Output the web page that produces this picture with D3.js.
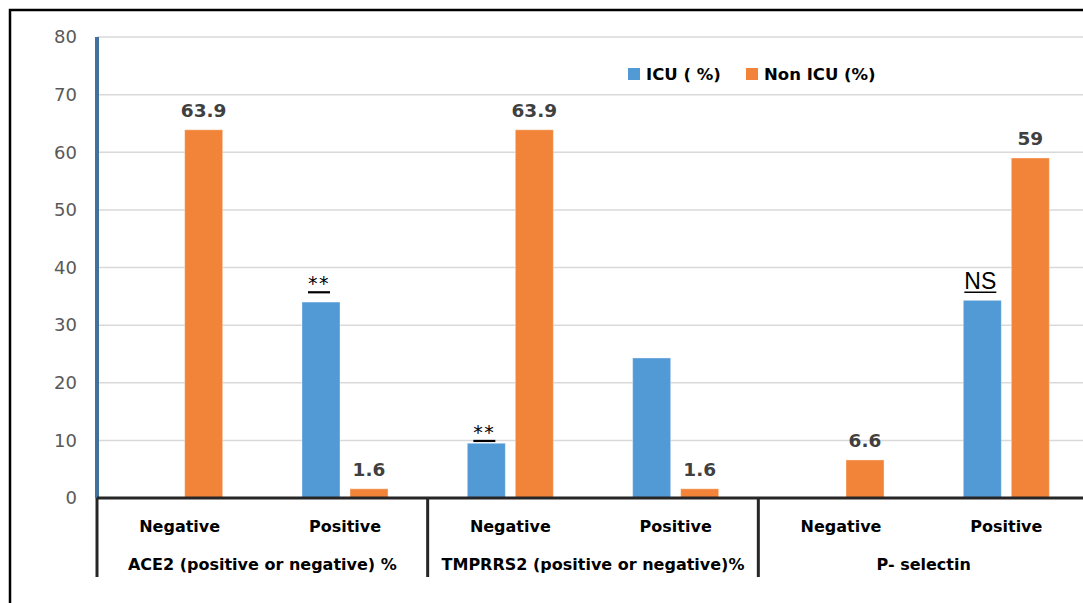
<!DOCTYPE html>
<html>
<head>
<meta charset="utf-8">
<script src="https://cdn.jsdelivr.net/npm/d3@7"></script>
<style>
  html, body { margin: 0; padding: 0; background: #fff; }
  svg { display: block; }
</style>
</head>
<body>
<div id="chart"></div>
<script>
// ---- data ----
const groups = ["ACE2 (positive or negative) %", "TMPRRS2 (positive or negative)%", "P- selectin"];
const categories = ["Negative", "Positive"];
const seriesNames = ["ICU ( %)", "Non ICU (%)"];
// values listed per group, then per category (Negative, Positive)
const icuValues    = [0, 34.0, 9.5, 24.3, 0, 34.3];
const nonIcuValues = [63.9, 1.6, 63.9, 1.6, 6.6, 59];
const nonIcuLabels = ["63.9", "1.6", "63.9", "1.6", "6.6", "59"];
const yTicks = [0, 10, 20, 30, 40, 50, 60, 70, 80];
// significance marks over ICU bars: group index, category index, text, level (data units)
const marks = [
  { g: 0, c: 1, text: "**", level: 35.7 },
  { g: 1, c: 0, text: "**", level: 9.9 },
  { g: 2, c: 1, text: "NS", level: 35.7 }
];

const W = 1083, H = 603;
const colors = ["#529ad5", "#f2843a"];

const svg = d3.select("#chart").append("svg")
  .attr("width", W).attr("height", H);

const pLeft = 97, pRight = 1089, pTop = 37, pBottom = 498;

const y = d3.scaleLinear().domain([0, 80]).range([pBottom, pTop]);
const x0 = d3.scaleBand().domain(groups).range([pLeft, pRight]);
const x1 = d3.scaleBand().domain(categories).range([0, x0.bandwidth()]);
const x2 = d3.scaleBand().domain(seriesNames).range([0, x1.bandwidth()])
  .paddingInner(0.2083).paddingOuter(0.826);

// outer border
svg.append("rect").attr("x", 10).attr("y", 10).attr("width", 1200).attr("height", 800)
  .attr("fill", "none").attr("stroke", "#000").attr("stroke-width", 2.5);

// gridlines
svg.append("g").selectAll("line").data(yTicks.filter(d => d > 0)).join("line")
  .attr("x1", pLeft).attr("x2", W).attr("y1", d => y(d)).attr("y2", d => y(d))
  .attr("stroke", "#d9d9d9").attr("stroke-width", 1.5);

// y axis
const yAxis = d3.axisLeft(y).tickValues(yTicks).tickSize(0).tickPadding(20);
const yg = svg.append("g").attr("transform", `translate(${pLeft},0)`).call(yAxis);
yg.select(".domain").remove();
yg.selectAll("text").attr("font-family", "DejaVu Sans").attr("font-size", 18)
  .attr("fill", "#595959");
svg.append("line").attr("x1", pLeft).attr("x2", pLeft).attr("y1", pTop).attr("y2", pBottom)
  .attr("stroke", "#41719c").attr("stroke-width", 4);

// flattened rows
const rows = [];
groups.forEach((g, gi) => categories.forEach((c, ci) => {
  const i = gi * categories.length + ci;
  rows.push({ g, c, gi, ci, icu: icuValues[i], non: nonIcuValues[i], label: nonIcuLabels[i] });
}));

const bx = (r, s) => x0(r.g) + x1(r.c) + x2(s);

// bars
const barsG = svg.append("g");
rows.forEach(r => {
  [[seriesNames[0], r.icu, colors[0]], [seriesNames[1], r.non, colors[1]]].forEach(([s, v, col]) => {
    if (!v) return;
    barsG.append("rect")
      .attr("x", bx(r, s)).attr("width", x2.bandwidth())
      .attr("y", y(v)).attr("height", y(0) - y(v))
      .attr("fill", col).attr("stroke", "rgba(255,255,255,0.35)").attr("stroke-width", 1);
  });
});

// data labels (Non ICU)
svg.append("g").selectAll("text").data(rows).join("text")
  .attr("x", r => bx(r, seriesNames[1]) + x2.bandwidth() / 2)
  .attr("y", r => y(r.non) - 13)
  .attr("text-anchor", "middle")
  .attr("font-family", "DejaVu Sans").attr("font-weight", "bold").attr("font-size", 18.5)
  .attr("fill", "#404040")
  .text(r => r.label);

// significance marks
marks.forEach(m => {
  const r = rows[m.g * categories.length + m.c];
  const cx = bx(r, seriesNames[0]) + x2.bandwidth() / 2 - 2;
  const ly = y(m.level);
  if (m.text === "NS") {
    const t = svg.append("text").attr("x", cx).attr("y", ly - 3)
      .attr("text-anchor", "middle").attr("font-family", "Liberation Sans")
      .attr("font-size", 23).attr("fill", "#000").text(m.text);
    const bb = t.node().getBBox();
    svg.append("line").attr("x1", bb.x).attr("x2", bb.x + bb.width)
      .attr("y1", ly).attr("y2", ly).attr("stroke", "#000").attr("stroke-width", 1.6);
  } else {
    svg.append("text").attr("x", cx).attr("y", ly - 2)
      .attr("text-anchor", "middle").attr("font-family", "DejaVu Sans")
      .attr("font-size", 19).attr("letter-spacing", 1.5).attr("fill", "#000").text(m.text);
    svg.append("line").attr("x1", cx - 11).attr("x2", cx + 11)
      .attr("y1", ly).attr("y2", ly).attr("stroke", "#000").attr("stroke-width", 2.2);
  }
});

// category axis
svg.append("line").attr("x1", pLeft).attr("x2", W).attr("y1", pBottom).attr("y2", pBottom)
  .attr("stroke", "#262626").attr("stroke-width", 3);
const seps = groups.map(g => x0(g)).concat([pRight]);
svg.append("g").selectAll("line").data(seps).join("line")
  .attr("x1", d => d).attr("x2", d => d).attr("y1", pBottom).attr("y2", 577)
  .attr("stroke", "#262626").attr("stroke-width", 3);

svg.append("g").selectAll("text").data(rows).join("text")
  .attr("x", r => x0(r.g) + x1(r.c) + x1.bandwidth() / 2)
  .attr("y", 532)
  .attr("text-anchor", "middle")
  .attr("font-family", "DejaVu Sans").attr("font-weight", "bold").attr("font-size", 16)
  .attr("fill", "#000")
  .text(r => r.c);

svg.append("g").selectAll("text").data(groups).join("text")
  .attr("x", g => x0(g) + x0.bandwidth() / 2)
  .attr("y", 570)
  .attr("text-anchor", "middle")
  .attr("font-family", "DejaVu Sans").attr("font-weight", "bold").attr("font-size", 16)
  .attr("fill", "#000")
  .text(g => g);

// legend
const legendX = [628, 746];
const lg = svg.append("g");
seriesNames.forEach((s, i) => {
  lg.append("rect").attr("x", legendX[i]).attr("y", 68).attr("width", 12).attr("height", 12)
    .attr("fill", colors[i]);
  lg.append("text").attr("x", legendX[i] + 18).attr("y", 80)
    .attr("font-family", "DejaVu Sans").attr("font-weight", "bold").attr("font-size", 16.5)
    .attr("fill", "#000").text(s);
});
</script>
</body>
</html>
